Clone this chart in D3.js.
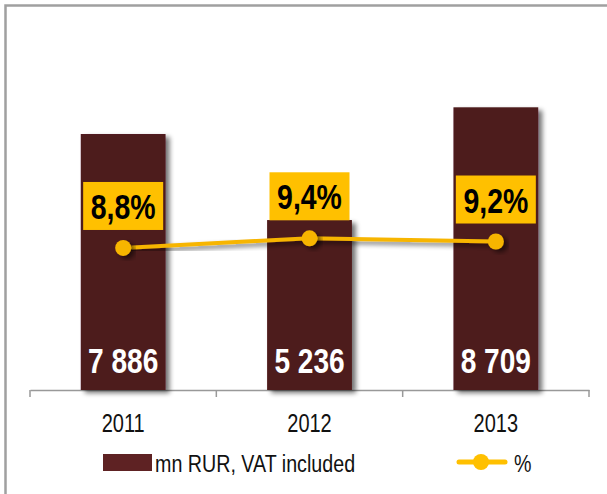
<!DOCTYPE html>
<html>
<head>
<meta charset="utf-8">
<script src="https://cdn.jsdelivr.net/npm/d3@7"></script>
<style>
  body { margin: 0; background: #fff; }
  svg text { font-family: "Liberation Sans", Arial, sans-serif; }
</style>
</head>
<body>
<div class="chart"></div>
<script>
const years = ['2011', '2012', '2013'];
const amounts = [7886, 5236, 8709];        // mn RUR, VAT included
const shares = [8.8, 9.4, 9.2];            // %
const amountLabels = ['7 886', '5 236', '8 709'];
const shareLabels = ['8,8%', '9,4%', '9,2%'];

const width = 607, height = 494;

// no narrow font installed, so squeeze Liberation Sans horizontally
function narrow(px, py, sx) {
  return `translate(${px},${py}) scale(${sx},1)`;
}

const svg = d3.select('.chart')
  .append('svg')
  .attr('width', width)
  .attr('height', height);

// shadows
const defs = svg.append('defs');
const sh = defs.append('filter').attr('id', 'shadow')
  .attr('x', '-20%').attr('y', '-20%').attr('width', '150%').attr('height', '150%');
sh.append('feGaussianBlur').attr('in', 'SourceAlpha').attr('stdDeviation', 2.5);
sh.append('feOffset').attr('dx', 4).attr('dy', 3).attr('result', 'b');
sh.append('feComponentTransfer').append('feFuncA').attr('type', 'linear').attr('slope', 0.55);
const m = sh.append('feMerge');
m.append('feMergeNode');
m.append('feMergeNode').attr('in', 'SourceGraphic');

// outer frame
svg.append('rect')
  .attr('x', 5.5).attr('y', 5.5)
  .attr('width', 700).attr('height', 600)
  .attr('fill', 'none')
  .attr('stroke', '#a0a0a0')
  .attr('stroke-width', 2.5);

const x = d3.scaleBand()
  .domain(years)
  .range([30, 589])
  .paddingInner(0.545)
  .paddingOuter(0.2725);

const y = d3.scaleLinear().domain([0, 10000]).range([390, 65.4]);
const y2 = d3.scaleLinear().domain([0, 10]).range([390, 228.6]);

// axis
const axis = svg.append('g')
  .attr('transform', 'translate(0,390)')
  .call(d3.axisBottom(x).tickSize(0).tickFormat(''));
axis.select('.domain').attr('stroke', '#999').attr('stroke-width', 1.5);

const step = x.step();
svg.append('g').selectAll('line')
  .data(d3.range(years.length + 1))
  .join('line')
  .attr('x1', i => 30 + i * step)
  .attr('x2', i => 30 + i * step)
  .attr('y1', 390)
  .attr('y2', 397)
  .attr('stroke', '#999')
  .attr('stroke-width', 1.5);

svg.append('g').selectAll('text')
  .data(years)
  .join('text')
  .attr('transform', d => narrow(x(d) + x.bandwidth() / 2, 432, 0.8))
  .attr('text-anchor', 'middle')
  .attr('font-size', 25)
  .attr('fill', '#111')
  .text(d => d);

// bars
svg.append('g').selectAll('rect')
  .data(amounts)
  .join('rect')
  .attr('x', (d, i) => x(years[i]))
  .attr('y', d => y(d))
  .attr('width', x.bandwidth())
  .attr('height', d => 390 - y(d))
  .attr('fill', '#4e1a1b')
  .attr('filter', 'url(#shadow)');

svg.append('g').selectAll('text')
  .data(amountLabels)
  .join('text')
  .attr('transform', (d, i) => narrow(x(years[i]) + x.bandwidth() / 2, 373, 0.78))
  .attr('text-anchor', 'middle')
  .attr('font-size', 36)
  .attr('font-weight', 'bold')
  .attr('fill', '#fff')
  .text(d => d);

// line
const cx = (d, i) => x(years[i]) + x.bandwidth() / 2;
svg.append('path')
  .datum(shares)
  .attr('d', d3.line().x(cx).y(d => y2(d)))
  .attr('fill', 'none')
  .attr('stroke', '#f7b500')
  .attr('stroke-width', 4)
  .attr('filter', 'url(#shadow)');

svg.append('g').selectAll('circle')
  .data(shares)
  .join('circle')
  .attr('cx', cx)
  .attr('cy', d => y2(d))
  .attr('r', 8)
  .attr('fill', '#f7b500')
  .attr('filter', 'url(#shadow)');

// percent labels
const lab = svg.append('g').selectAll('g')
  .data(shares)
  .join('g')
  .attr('transform', (d, i) => `translate(${cx(d, i)},${y2(d) - 42})`);

lab.append('rect')
  .attr('x', -40).attr('y', -24)
  .attr('width', 80).attr('height', 48)
  .attr('fill', '#ffc000');

lab.append('text')
  .attr('transform', narrow(0, 13, 0.79))
  .attr('text-anchor', 'middle')
  .attr('font-size', 36)
  .attr('font-weight', 'bold')
  .attr('fill', '#000')
  .text((d, i) => shareLabels[i]);

// legend
const legend = svg.append('g');
legend.append('rect')
  .attr('x', 103).attr('y', 454)
  .attr('width', 49).attr('height', 17)
  .attr('fill', '#5e2223');
legend.append('text')
  .attr('transform', narrow(155, 472, 0.82))
  .attr('font-size', 24)
  .attr('fill', '#111')
  .text('mn RUR, VAT included');

legend.append('line')
  .attr('x1', 459).attr('x2', 505)
  .attr('y1', 462).attr('y2', 462)
  .attr('stroke', '#ffc000')
  .attr('stroke-width', 5)
  .attr('stroke-linecap', 'round');
legend.append('circle')
  .attr('cx', 481).attr('cy', 462).attr('r', 8)
  .attr('fill', '#ffc000');
legend.append('text')
  .attr('transform', narrow(514, 472, 0.82))
  .attr('font-size', 24)
  .attr('fill', '#111')
  .text('%');
</script>
</body>
</html>
